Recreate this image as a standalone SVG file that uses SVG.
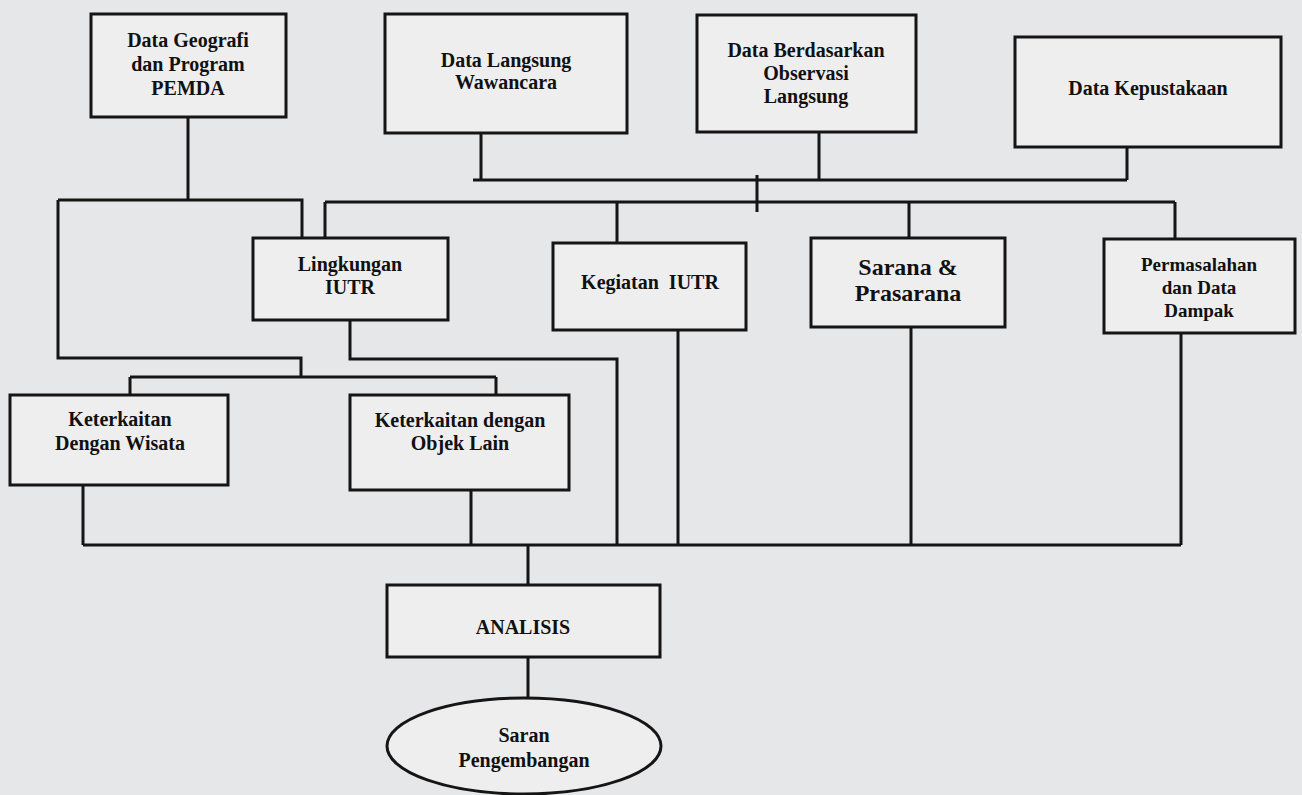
<svg xmlns="http://www.w3.org/2000/svg" width="1302" height="795" viewBox="0 0 1302 795">
<style>
.bg{fill:#e6e7e9}
.box{fill:#eeeeef;stroke:#151515;stroke-width:3}
.ln{fill:none;stroke:#151515;stroke-width:3}
text{font-family:"Liberation Serif","Times New Roman",serif;font-weight:bold;font-size:20px;fill:#111;text-anchor:middle;dominant-baseline:central}
.big{font-size:24px}
.sm{font-size:19px}
</style>
<rect class="bg" x="0" y="0" width="1302" height="795"/>
<g id="connectors">
<path class="ln" d="M481 133V180M819 132V180M1127 147V180M473 180H1127M757 175V212"/>
<path class="ln" d="M188 117V200M58 200H302V238M58 200V358H301V377"/>
<path class="ln" d="M325 202H1175M325 202V238M617 202V243M909 202V238M1175 202V239"/>
<path class="ln" d="M350 320V359H617V545"/>
<path class="ln" d="M130 377H496M130 377V395M496 377V395"/>
<path class="ln" d="M83 485V545M471 490V545M678 330V545M911 327V545M1181 333V545M83 545H1181"/>
<path class="ln" d="M528 545V585M528 657V698"/>
</g>
<g id="n-geografi">
<rect class="box" x="91" y="14" width="195" height="103"/>
<text x="188" y="40">Data Geografi</text>
<text x="188" y="64">dan Program</text>
<text x="188" y="88">PEMDA</text>
</g>
<g id="n-langsung">
<rect class="box" x="385" y="14" width="242" height="119"/>
<text x="506" y="60">Data Langsung</text>
<text x="506" y="82">Wawancara</text>
</g>
<g id="n-observasi">
<rect class="box" x="697" y="15" width="219" height="117"/>
<text x="806" y="50">Data Berdasarkan</text>
<text x="806" y="73">Observasi</text>
<text x="806" y="96">Langsung</text>
</g>
<g id="n-kepustakaan">
<rect class="box" x="1015" y="37" width="266" height="110"/>
<text x="1148" y="88">Data Kepustakaan</text>
</g>
<g id="n-lingkungan">
<rect class="box" x="253" y="238" width="195" height="82"/>
<text x="350" y="264">Lingkungan</text>
<text x="350" y="287">IUTR</text>
</g>
<g id="n-kegiatan">
<rect class="box" x="553" y="243" width="193" height="87"/>
<text x="650" y="282" xml:space="preserve">Kegiatan  IUTR</text>
</g>
<g id="n-sarana">
<rect class="box" x="811" y="238" width="194" height="89"/>
<text class="big" x="908" y="267">Sarana &amp;</text>
<text class="big" x="908" y="293">Prasarana</text>
</g>
<g id="n-permasalahan">
<rect class="box" x="1104" y="239" width="191" height="94"/>
<text class="sm" x="1199" y="264">Permasalahan</text>
<text class="sm" x="1199" y="287">dan Data</text>
<text class="sm" x="1199" y="310">Dampak</text>
</g>
<g id="n-wisata">
<rect class="box" x="10" y="395" width="218" height="90"/>
<text x="120" y="419">Keterkaitan</text>
<text x="120" y="443">Dengan Wisata</text>
</g>
<g id="n-objek">
<rect class="box" x="350" y="395" width="219" height="95"/>
<text x="460" y="420">Keterkaitan dengan</text>
<text x="460" y="443">Objek Lain</text>
</g>
<g id="n-analisis">
<rect class="box" x="387" y="585" width="273" height="72"/>
<text x="523" y="627">ANALISIS</text>
</g>
<g id="n-saran">
<ellipse class="box" cx="524" cy="746" rx="137" ry="48"/>
<text x="524" y="735">Saran</text>
<text x="524" y="760">Pengembangan</text>
</g>
</svg>
